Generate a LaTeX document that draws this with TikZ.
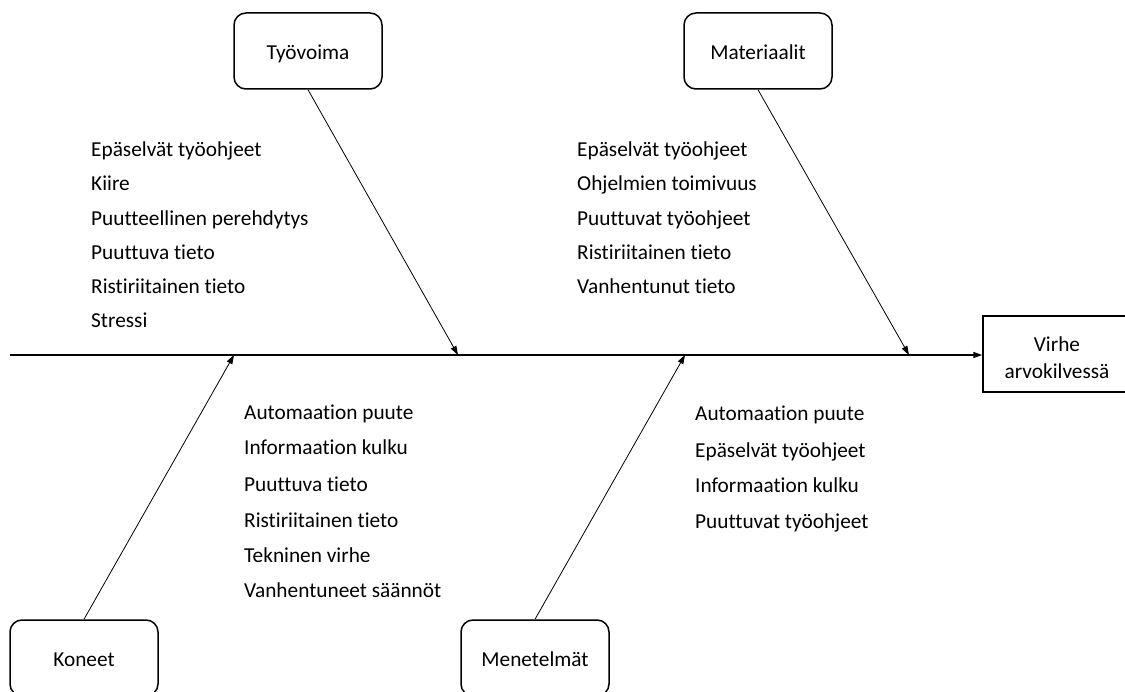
\documentclass[tikz,border=0pt]{standalone}
\usepackage{fontspec}
\setmainfont{Carlito}[Ligatures=NoCommon]
\usetikzlibrary{shapes, arrows.meta, positioning, calc}

\begin{document}
\begin{tikzpicture}[x=1pt, y=-1pt,
		cat/.style={draw, line width=1.5pt, rounded corners=12pt, minimum width=148pt, minimum height=76pt, text height=19pt, text depth=2pt, font=\fontsize{21.3}{25}\selectfont},
		cause/.style={anchor=base west, inner sep=0pt, font=\fontsize{21.3}{25}\selectfont},
		bone/.style={line width=0.8pt, -{Triangle[length=9pt,width=6pt]}}]
			\useasboundingbox (0,0) rectangle (1125,692);
			\clip (0,0) rectangle (1125,692);
			% kategoriat
			\node[cat] (tyo) at (308,51) {Työvoima};
			\node[cat] (mat) at (758,51) {Materiaalit};
			\node[cat] (kon) at (84,658) {Koneet};
			\node[cat] (men) at (535,658) {Menetelmät};
			\node[draw, line width=1.5pt, minimum width=148pt, minimum height=76pt, align=center, font=\fontsize{21.3}{27}\selectfont] (virhe) at (1057,354) {\rule{0pt}{22pt}Virhe\\arvokilvessä};
			% selkäranka
			\coordinate (tail) at (10,355);
			\draw[line width=1.4pt, -{Triangle[length=9pt,width=6pt]}] (tail) -- (virhe.west |- tail);
			\coordinate (c1) at (458,355);
			\coordinate (c2) at (909,355);
			\coordinate (c3) at (234,355);
			\coordinate (c4) at (685,355);
			\draw[bone] (tyo.south) -- (c1);
			\draw[bone] (mat.south) -- (c2);
			\draw[bone] (kon.north) -- (c3);
			\draw[bone] (men.north) -- (c4);
			% syyt
			\foreach \t/\y [count=\i] in {Epäselvät työohjeet/157, Kiire/191, Puutteellinen perehdytys/226, Puuttuva tieto/260, Ristiriitainen tieto/294, Stressi/328}
				\node[cause] (a\i) at (91,\y) {\t};
			\foreach \t/\y [count=\i] in {Epäselvät työohjeet/157, Ohjelmien toimivuus/191, Puuttuvat työohjeet/226, Ristiriitainen tieto/260, Vanhentunut tieto/294}
				\node[cause] (b\i) at (577,\y) {\t};
			\foreach \t/\y [count=\i] in {Automaation puute/420, Informaation kulku/455, Puuttuva tieto/492, Ristiriitainen tieto/527, Tekninen virhe/562, Vanhentuneet säännöt/597}
				\node[cause] (d\i) at (244,\y) {\t};
			\foreach \t/\y [count=\i] in {Automaation puute/421, Epäselvät työohjeet/457, Informaation kulku/493, Puuttuvat työohjeet/528}
				\node[cause] (e\i) at (695,\y) {\t};
		\end{tikzpicture}
\end{document}
